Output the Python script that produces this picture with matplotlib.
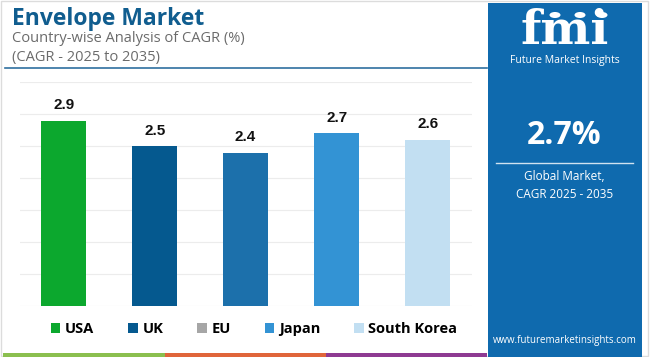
import matplotlib
matplotlib.use("Agg")
import matplotlib.pyplot as plt
from matplotlib.patches import Rectangle, Patch, Circle
from matplotlib.lines import Line2D

categories = ["USA", "UK", "EU", "Japan", "South Korea"]
values = [2.9, 2.5, 2.4, 2.7, 2.6]
bar_colors = ["#0ca82e", "#05598f", "#1c70ab", "#3393d4", "#c2dff2"]
legend_colors = ["#0ca82e", "#05598f", "#a6a6a6", "#3393d4", "#c2dff2"]
title = "Envelope Market"
subtitle1 = "Country-wise Analysis of CAGR (%)"
subtitle2 = "(CAGR - 2025 to 2035)"
headline_value = "2.7%"
panel_text = "Global Market,\nCAGR 2025 - 2035"

W, H = 650, 357
fig = plt.figure(figsize=(6.5, 3.57), dpi=100)
fig.patch.set_facecolor("white")

def fx(px):
    return px / W

def fy(py):
    return 1 - py / H

# figure border
fig.add_artist(Rectangle((fx(1), fy(356)), fx(647), (355) / H, transform=fig.transFigure,
                         fill=False, edgecolor="#dcdcdc", linewidth=1.0))

# axes
ax = fig.add_axes([fx(20), fy(305.7), fx(451.7), (305.7 - 82.3) / H])
x = list(range(len(categories)))
bars = ax.bar(x, values, width=0.5, color=bar_colors, zorder=3)
ax.set_ylim(0, 3.5)
ax.set_xlim(-0.48, len(categories) - 1 + 0.485)
ax.set_yticks([i * 0.5 for i in range(8)])
ax.grid(axis="y", color="#ececec", linewidth=0.8, zorder=0)
ax.tick_params(left=False, bottom=False, labelleft=False, labelbottom=False)
for s in ax.spines.values():
    s.set_visible(False)
for xi, v in zip(x, values):
    ax.annotate(f"{v}", (xi, v), xytext=(0, 6), textcoords="offset points",
                ha="center", va="bottom", fontsize=11, fontweight="bold",
                family="Liberation Sans", color="#111111")

# titles
fig.text(fx(12), fy(25), title, fontsize=16.5, fontweight="bold", family="Open Sans",
         color="#105d8f", va="baseline", ha="left")
fig.text(fx(12.5), fy(42.3), subtitle1, fontsize=10.5, family="Open Sans",
         color="#6b6b6b", va="baseline", ha="left")
fig.text(fx(12.5), fy(60.7), subtitle2, fontsize=10.5, family="Open Sans",
         color="#6b6b6b", va="baseline", ha="left")
fig.add_artist(Line2D([fx(5), fx(487)], [fy(67.7), fy(67.7)], transform=fig.transFigure,
                      color="#2f6f9f", linewidth=1.2))

# legend
handles = [Patch(facecolor=c, edgecolor="none") for c in legend_colors]
leg = fig.legend(handles, categories, loc="center", bbox_to_anchor=(fx(254), fy(329)),
                 ncol=5, frameon=False, handlelength=0.65, handleheight=0.65,
                 handletextpad=0.33, columnspacing=2.32,
                 prop={"family": "Open Sans", "weight": "bold", "size": 10.5})

# bottom strips
for (x0, x1, c) in [(3, 165, "#8bbf4f"), (165, 326, "#e0653a"), (326, 487, "#8e3a92")]:
    fig.add_artist(Rectangle((fx(x0), 0), fx(x1 - x0), 4 / H, transform=fig.transFigure,
                             facecolor=c, edgecolor="none"))

# right panel
fig.add_artist(Rectangle((fx(487.5), 0), fx(154), (357 - 2.7) / H, transform=fig.transFigure,
                         facecolor="#0f6aae", edgecolor="none"))
cx = fx(564.5)
fig.text(cx, fy(44), "fmi", fontsize=34, fontweight="bold", family="DejaVu Serif",
         color="white", ha="center", va="baseline")
for px in (555, 580, 602):
    fig.add_artist(Circle((fx(px), fy(15)), 5.5 / W, transform=fig.transFigure,
                          facecolor="white", edgecolor="none"))
fig.text(cx, fy(60), "Future Market Insights", fontsize=7.5, family="Open Sans",
         color="white", ha="center", va="center")
fig.text(cx, fy(136), headline_value, fontsize=23, fontweight="bold", family="Open Sans",
         color="white", ha="center", va="center")
fig.add_artist(Line2D([fx(496), fx(633)], [fy(163), fy(163)], transform=fig.transFigure,
                      color="#d0e2f0", linewidth=1.0))
fig.text(cx, fy(185), panel_text, fontsize=8.5, family="Open Sans", color="white",
         ha="center", va="center", linespacing=1.5)
fig.text(cx, fy(341), "www.futuremarketinsights.com", fontsize=7, family="Open Sans",
         color="white", ha="center", va="center")

fig.savefig("out.png", dpi=100, facecolor="white")
